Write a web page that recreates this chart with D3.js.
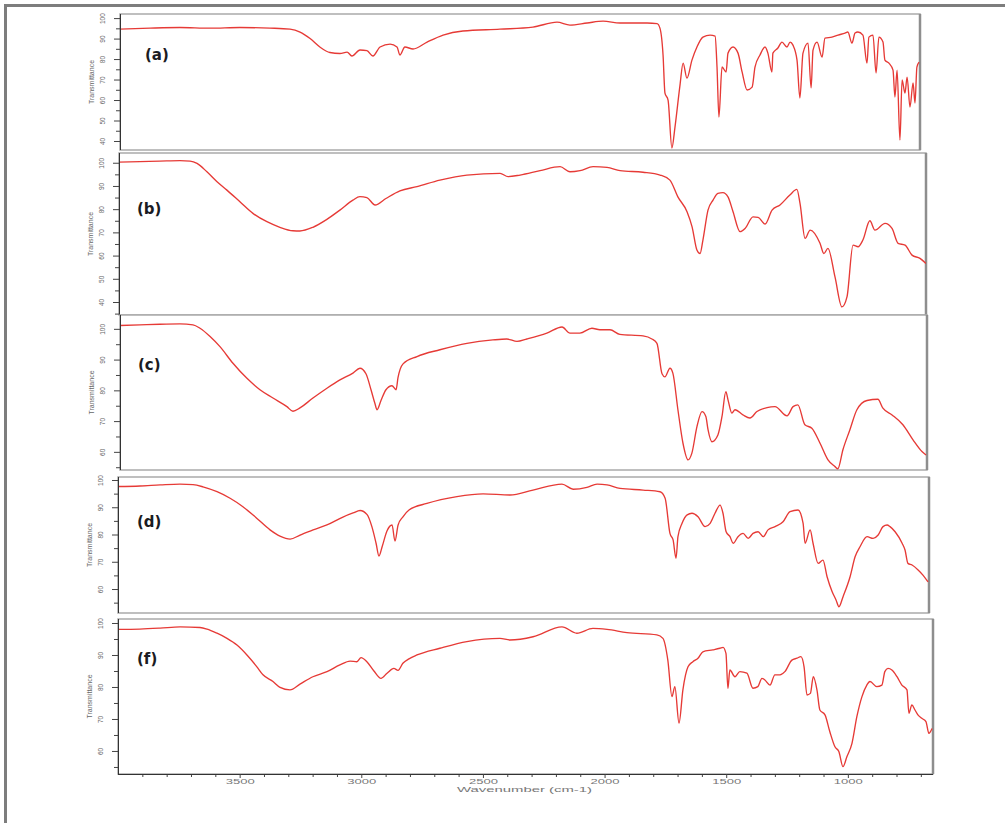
<!DOCTYPE html>
<html>
<head>
<meta charset="utf-8">
<script src="https://cdn.jsdelivr.net/npm/d3@7/dist/d3.min.js"></script>
<style>
  body { margin: 0; background: #fff; }
  svg { display: block; }
</style>
</head>
<body>
<svg id="chart" width="1005" height="823"></svg>
<script>
// FTIR spectra: [wavenumber (cm-1), transmittance (%)]
var specA = [[4000,94.6],[3874,95.1],[3749,95.4],[3623,95.1],[3498,95.4],[3372,95.1],[3288,94.6],[3246,93.2],[3204,90.0],[3163,85.9],
  [3121,83.2],[3079,82.7],[3049,83.4],[3029,81.5],[2995,84.4],[2966,84.1],[2941,81.5],[2911,85.9],[2869,87.3],[2840,85.9],
  [2828,82.0],[2807,85.9],[2773,84.9],[2714,88.3],[2647,91.7],[2564,93.7],[2409,94.6],[2271,95.6],[2170,98.0],[2116,96.6],
  [2044,97.6],[1977,98.5],[1906,97.6],[1793,97.6],[1751,97.3],[1739,95.1],[1726,82.0],[1718,63.4],[1705,60.0],[1689,36.6],
  [1676,46.8],[1655,67.3],[1642,78.0],[1626,70.7],[1605,79.5],[1584,85.9],[1559,90.7],[1529,91.7],[1508,91.2],[1500,76.1],
  [1492,51.7],[1479,76.1],[1462,73.7],[1454,82.9],[1433,85.9],[1412,82.9],[1395,73.7],[1374,64.9],[1353,66.3],[1341,76.1],
  [1320,82.0],[1299,85.9],[1287,82.9],[1270,73.7],[1266,82.9],[1245,85.4],[1228,88.3],[1207,85.9],[1194,88.3],[1182,86.8],
  [1165,79.5],[1153,61.0],[1140,82.9],[1119,87.8],[1106,65.9],[1098,84.4],[1081,88.3],[1060,81.0],[1048,90.2],[1019,90.7],
  [993,91.7],[964,92.7],[952,93.2],[935,87.8],[922,92.7],[910,93.2],[889,91.7],[872,78.0],[864,90.7],[847,91.7],
  [834,73.2],[822,90.7],[805,88.3],[797,79.5],[780,78.0],[763,74.6],[755,61.5],[746,74.6],[734,40.5],[725,69.8],
  [713,63.4],[704,71.2],[692,56.6],[679,68.3],[671,58.5],[663,76.1],[654,78.5]];

var specB = [[4000,100.3],[3913,100.5],[3830,100.7],[3747,100.9],[3705,100.7],[3676,99.7],[3635,96.1],[3593,91.8],[3552,88.2],[3498,83.2],
  [3444,78.2],[3386,74.6],[3332,72.2],[3278,70.7],[3249,70.6],[3195,72.2],[3137,75.6],[3083,79.6],[3029,83.9],[3000,85.4],
  [2971,85.0],[2937,81.8],[2892,84.6],[2834,87.9],[2763,89.7],[2668,92.5],[2556,94.7],[2418,95.4],[2385,94.0],[2335,94.7],
  [2252,96.6],[2169,98.3],[2128,96.1],[2086,96.6],[2032,98.3],[1974,98.0],[1920,96.6],[1825,95.9],[1754,94.7],[1713,92.5],
  [1680,85.3],[1642,78.9],[1621,72.4],[1601,62.4],[1588,60.9],[1576,66.7],[1555,79.6],[1534,83.9],[1514,86.8],[1493,87.1],
  [1472,85.3],[1451,78.9],[1422,70.3],[1401,71.7],[1368,76.7],[1347,76.5],[1318,73.6],[1289,79.6],[1256,81.8],[1215,86.1],
  [1186,88.5],[1173,82.5],[1152,67.4],[1131,71.0],[1090,65.3],[1074,60.9],[1057,63.1],[1028,50.9],[999,37.9],[978,42.2],
  [953,64.5],[932,63.8],[912,66.7],[883,75.0],[862,71.0],[820,73.9],[791,71.7],[766,65.3],[737,64.5],[708,60.2],
  [675,58.8],[650,56.6]];

var specC = [[4000,101.1],[3917,101.3],[3834,101.5],[3751,101.6],[3697,101.3],[3668,100.2],[3626,97.5],[3585,94.2],[3531,88.8],[3473,83.9],
  [3419,80.2],[3365,77.5],[3307,74.7],[3282,73.2],[3253,74.3],[3199,77.5],[3141,80.7],[3087,83.4],[3033,85.6],[3004,87.2],
  [2979,85.4],[2958,80.2],[2942,75.8],[2933,73.7],[2917,76.6],[2896,80.2],[2871,81.5],[2854,80.2],[2846,84.1],[2825,88.6],
  [2767,91.0],[2672,93.2],[2560,95.3],[2452,96.4],[2394,96.7],[2352,95.9],[2311,96.7],[2228,98.6],[2165,100.6],[2132,98.6],
  [2091,98.6],[2041,100.2],[2008,99.7],[1966,99.7],[1925,98.2],[1829,97.7],[1792,96.7],[1771,95.3],[1750,85.4],[1738,84.4],
  [1717,87.2],[1705,85.6],[1684,73.7],[1663,62.8],[1642,57.4],[1626,59.6],[1605,68.2],[1584,73.1],[1568,71.5],[1559,67.2],
  [1543,63.3],[1518,65.5],[1501,71.5],[1485,79.6],[1476,76.9],[1460,72.6],[1447,73.7],[1414,72.0],[1385,71.0],[1356,73.1],
  [1314,74.4],[1281,74.7],[1231,71.7],[1206,74.7],[1186,75.3],[1157,68.8],[1128,67.7],[1094,62.8],[1061,57.4],[1032,55.2],
  [1020,54.5],[999,60.7],[970,67.2],[941,73.7],[899,76.7],[854,77.1],[833,74.2],[795,72.0],[750,68.8],[708,63.9],
  [671,60.1],[654,59.0]];

var specD = [[4000,97.6],[3909,97.8],[3826,98.2],[3744,98.5],[3690,98.3],[3649,97.5],[3591,95.7],[3537,93.3],[3484,90.2],[3426,85.9],
  [3372,81.7],[3331,79.4],[3289,78.3],[3248,79.8],[3194,81.7],[3137,83.5],[3071,86.4],[3029,87.9],[3000,88.8],[2971,87.3],
  [2951,82.8],[2934,76.8],[2922,72.1],[2909,75.5],[2889,81.3],[2868,83.5],[2856,77.6],[2843,83.5],[2823,86.5],[2798,89.0],
  [2724,91.4],[2600,93.9],[2492,94.9],[2381,94.5],[2286,96.3],[2166,98.5],[2120,96.6],[2063,97.3],[2021,98.5],[1980,98.2],
  [1926,96.9],[1831,96.3],[1761,95.7],[1740,93.3],[1720,80.4],[1707,78.0],[1695,71.3],[1687,79.2],[1670,84.1],[1649,87.2],
  [1629,87.8],[1604,86.5],[1575,82.9],[1554,84.1],[1534,87.8],[1513,90.8],[1501,87.8],[1488,81.0],[1472,79.2],[1459,76.8],
  [1439,79.2],[1418,80.4],[1397,78.6],[1377,80.4],[1356,81.0],[1335,79.2],[1315,81.7],[1286,82.9],[1253,84.7],[1224,88.4],
  [1191,89.0],[1170,84.1],[1162,76.8],[1141,81.7],[1129,76.8],[1108,69.4],[1088,70.6],[1071,64.5],[1050,59.0],[1034,56.0],
  [1022,53.5],[1005,57.2],[976,64.5],[955,71.9],[935,75.5],[906,79.2],[881,78.6],[860,79.8],[840,82.9],[823,83.5],
  [811,82.9],[790,81.0],[761,76.8],[749,74.3],[737,69.4],[720,68.8],[695,67.0],[675,65.1],[654,62.6]];

var specF = [[4000,98.0],[3910,98.1],[3827,98.4],[3745,98.8],[3663,98.6],[3634,98.1],[3593,96.8],[3552,95.2],[3511,93.1],[3470,90.0],
  [3429,86.3],[3404,83.8],[3363,81.7],[3334,79.9],[3293,79.1],[3252,80.9],[3199,83.2],[3141,84.8],[3088,86.9],[3046,88.1],
  [3018,87.9],[3001,89.2],[2977,87.9],[2948,85.0],[2919,82.7],[2894,84.3],[2866,85.8],[2849,85.2],[2829,87.4],[2804,88.8],
  [2771,90.0],[2677,92.1],[2566,94.2],[2430,95.2],[2389,94.7],[2294,95.7],[2175,98.8],[2114,96.8],[2048,98.3],[1990,98.0],
  [1908,97.0],[1785,96.3],[1760,95.2],[1740,88.4],[1723,77.0],[1711,80.1],[1694,68.7],[1678,79.1],[1657,86.3],[1637,87.9],
  [1616,89.0],[1596,91.0],[1555,91.6],[1526,92.1],[1513,92.4],[1501,90.5],[1493,79.6],[1485,85.3],[1464,83.2],[1444,84.8],
  [1415,84.3],[1390,79.6],[1370,80.1],[1353,82.7],[1341,82.2],[1320,80.6],[1300,83.8],[1279,83.8],[1259,84.8],[1230,88.4],
  [1209,89.0],[1193,89.5],[1180,86.3],[1168,77.5],[1154,78.0],[1142,83.2],[1127,79.1],[1115,72.8],[1094,71.3],[1074,66.0],
  [1053,61.3],[1037,59.8],[1020,55.1],[1004,58.2],[983,62.4],[963,70.7],[942,77.0],[922,80.6],[909,81.7],[881,80.1],
  [860,80.6],[848,84.8],[835,85.8],[819,85.3],[798,83.2],[778,80.6],[757,79.1],[749,71.8],[737,74.4],[724,72.8],
  [712,71.3],[696,70.2],[679,69.2],[667,65.5],[654,67.0]];

var panelLabels = ['(a)', '(b)', '(c)', '(d)', '(f)'];
var xDomain = [4000, 650];
var xTicksMajor = [3500, 3000, 2500, 2000, 1500, 1000];
var xTicksMinor = [3900, 3800, 3700, 3600, 3400, 3300, 3200, 3100, 2900, 2800, 2700, 2600, 2400, 2300, 2200, 2100,
  1900, 1800, 1700, 1600, 1400, 1300, 1200, 1100, 900, 800, 700];
var yTicksA = [40, 50, 60, 70, 80, 90, 100];
var yTicksC = [60, 70, 80, 90, 100];
var xTitle = 'Wavenumber (cm-1)';
var yTitle = 'Transmittance';

// each spectrum was pasted as its own image, so the frames do not line up exactly
var layout = [
  { data: specA, top: 14,  bottom: 150, left: 120, right: 920, yDom: [35.6, 102.0], ticks: yTicksA, labX: 145, labY: 60 },
  { data: specB, top: 153, bottom: 315, left: 119, right: 926, yDom: [34.4, 104.2], ticks: yTicksA, labX: 137, labY: 214 },
  { data: specC, top: 315, bottom: 470, left: 120, right: 927, yDom: [54.1, 104.5], ticks: yTicksC, labX: 138, labY: 370 },
  { data: specD, top: 477, bottom: 613, left: 118, right: 929, yDom: [51.2, 101.1], ticks: yTicksC, labX: 137, labY: 527 },
  { data: specF, top: 619, bottom: 774, left: 118, right: 933, yDom: [52.8, 101.25], ticks: yTicksC, labX: 137, labY: 664 }
];

var svg = d3.select('#chart');
svg.append('rect').attr('width', 1005).attr('height', 823).attr('fill', '#fff');

// outer frame of the figure (only top and left show)
svg.append('path')
  .attr('d', 'M5.5,823V5.5H1005')
  .attr('fill', 'none')
  .attr('stroke', '#7d7d7d')
  .attr('stroke-width', 3);

layout.forEach(function (p, i) {
  var x = d3.scaleLinear().domain(xDomain).range([p.left, p.right]);
  var y = d3.scaleLinear().domain(p.yDom).range([p.bottom, p.top]);
  var g = svg.append('g').attr('class', 'panel');

  // frame
  g.append('rect')
    .attr('x', p.left).attr('y', p.top)
    .attr('width', p.right - p.left).attr('height', p.bottom - p.top)
    .attr('fill', '#fff')
    .attr('stroke', '#aaa')
    .attr('stroke-width', 1.5);
  g.append('line')
    .attr('x1', p.right).attr('x2', p.right)
    .attr('y1', p.top).attr('y2', p.bottom)
    .attr('stroke', '#8e8e8e')
    .attr('stroke-width', 2.5);

  var clipId = 'clip' + i;
  g.append('clipPath').attr('id', clipId)
    .append('rect')
    .attr('x', p.left).attr('y', p.top)
    .attr('width', p.right - p.left).attr('height', p.bottom - p.top);

  var line = d3.line()
    .curve(d3.curveMonotoneX)
    .x(function (d) { return x(d[0]); })
    .y(function (d) { return y(d[1]); });

  g.append('path')
    .datum(p.data)
    .attr('clip-path', 'url(#' + clipId + ')')
    .attr('d', line)
    .attr('fill', 'none')
    .attr('stroke', '#e63a36')
    .attr('stroke-width', 1.35)
    .attr('stroke-linejoin', 'round');

  // y axis: minor ticks every 5, labels every 10
  var minors = [];
  p.ticks.forEach(function (t) { if (t - 5 > p.yDom[0]) minors.push(t - 5); });
  g.append('g')
    .attr('transform', 'translate(' + p.left + ',0)')
    .call(d3.axisLeft(y).tickValues(minors).tickSize(4).tickSizeOuter(0).tickFormat(''))
    .call(function (s) { s.select('.domain').remove(); s.selectAll('line').attr('stroke', '#444'); });

  var ya = g.append('g')
    .attr('transform', 'translate(' + p.left + ',0)')
    .call(d3.axisLeft(y).tickValues(p.ticks).tickSize(6).tickSizeOuter(0));
  ya.select('.domain').attr('stroke', '#333').attr('d', 'M0.5,' + p.top + 'V' + p.bottom);
  ya.selectAll('line').attr('stroke', '#444');
  ya.selectAll('text')
    .attr('x', 0).attr('y', 0).attr('dy', '0.35em')
    .attr('text-anchor', 'middle')
    .attr('transform', 'translate(-17,0) rotate(-90)')
    .attr('fill', '#666')
    .attr('font-family', 'Liberation Sans, Arial, sans-serif')
    .attr('font-size', 6.5);

  g.append('text')
    .attr('transform', 'translate(' + (p.left - 28) + ',' + ((p.top + p.bottom) / 2) + ') rotate(-90)')
    .attr('text-anchor', 'middle')
    .attr('dy', '0.35em')
    .attr('fill', '#666')
    .attr('font-family', 'Liberation Sans, Arial, sans-serif')
    .attr('font-size', 7)
    .text(yTitle);

  g.append('text')
    .attr('x', p.labX).attr('y', p.labY)
    .attr('fill', '#1b1b22')
    .attr('font-family', 'DejaVu Sans, sans-serif')
    .attr('font-weight', 'bold')
    .attr('font-size', 15)
    .text(panelLabels[i]);

  // only the last panel carries the wavenumber axis
  if (i === layout.length - 1) {
    g.append('g')
      .attr('transform', 'translate(0,' + p.bottom + ')')
      .call(d3.axisBottom(x).tickValues(xTicksMinor).tickSize(3).tickSizeOuter(0).tickFormat(''))
      .call(function (s) { s.select('.domain').remove(); s.selectAll('line').attr('stroke', '#444'); });

    var xa = g.append('g')
      .attr('transform', 'translate(0,' + p.bottom + ')')
      .call(d3.axisBottom(x).tickValues(xTicksMajor).tickSize(4).tickSizeOuter(0).tickFormat(d3.format('d')));
    xa.select('.domain').attr('stroke', '#333').attr('d', 'M' + p.left + ',0.5H' + p.right);
    xa.selectAll('line').attr('stroke', '#444');
    xa.selectAll('text')
      .attr('y', 5)
      .attr('fill', '#777')
      .attr('font-family', 'Liberation Sans, Arial, sans-serif')
      .attr('font-size', 7)
      .attr('textLength', 29)
      .attr('lengthAdjust', 'spacingAndGlyphs');

    g.append('text')
      .attr('x', (p.left + p.right) / 2 - 1).attr('y', p.bottom + 18)
      .attr('text-anchor', 'middle')
      .attr('fill', '#777')
      .attr('font-family', 'Liberation Sans, Arial, sans-serif')
      .attr('font-size', 8)
      .attr('textLength', 135)
      .attr('lengthAdjust', 'spacingAndGlyphs')
      .text(xTitle);
  }
});
</script>
</body>
</html>
